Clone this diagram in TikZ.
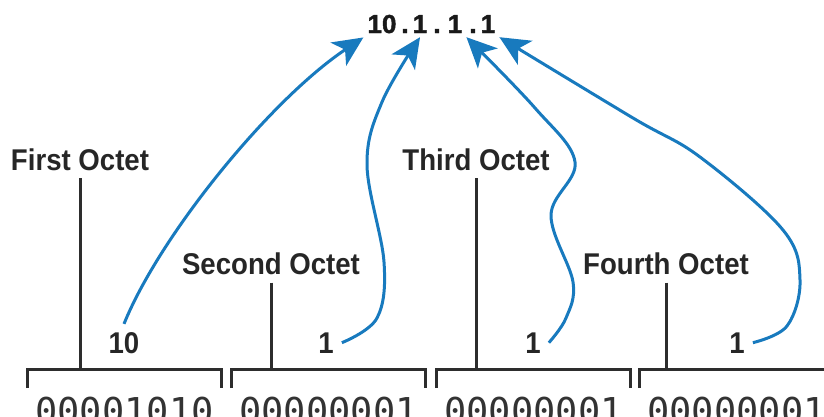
\documentclass[tikz,border=0pt]{standalone}
\usepackage{fontspec}
\setmainfont{Liberation Sans}
\newfontfamily\labfont[FakeStretch=0.92]{Liberation Sans}
\newfontfamily\ipfont[RawFeature={embolden=1.5}]{Liberation Sans}
\newfontfamily\bitfont{DejaVu Sans Mono}
\usetikzlibrary{arrows.meta,positioning}
\definecolor{linkblue}{RGB}{24,122,190}
\definecolor{inkgray}{RGB}{45,45,45}
\tikzset{
  octet/.style   = {font=\labfont\fontsize{30}{32}\bfseries, anchor=base,
          inner xsep=0pt, inner ysep=8pt, text=black!85},
  num/.style     = {octet, inner sep=8pt},
  ipdigit/.style = {font=\ipfont\fontsize{26}{28}\bfseries, anchor=base,
          inner sep=4pt, text=black!90},
  bits/.style    = {font=\bitfont\fontsize{37}{40}\selectfont,
          inner sep=0pt, text=black!80},
  brk/.style     = {minimum width=193pt, minimum height=18pt, inner sep=0pt},
  stem/.style    = {draw=inkgray, line width=3pt},
  link/.style    = {draw=linkblue, line width=3pt,
          -{Stealth[length=30pt,width=28pt,inset=8pt]}}
}

\begin{document}
\begin{tikzpicture}[x=1pt, y=-1pt]
  \useasboundingbox (0,0) rectangle (824,416);
  % dotted address
  \node [ipdigit] (ipa)  at (382,33) {10};
  \node [ipdigit] (dota) at (405,33) {.};
  \node [ipdigit] (ipb)  at (420,33) {1};
  \node [ipdigit] (dotb) at (437,33) {.};
  \node [ipdigit] (ipc)  at (455,33) {1};
  \node [ipdigit] (dotc) at (473,33) {.};
  \node [ipdigit] (ipd)  at (488,33) {1};
  % brackets and bits
  \foreach \i/\x/\b in {1/124.5/00001010, 2/328.5/00000001,
                        3/533.5/00000001, 4/736.5/00000001} {
    \node [brk] (br\i) at (\x,379) {};
    \node [bits, below=9pt of br\i] (bit\i) {\b};
    \draw [stem] (br\i.south west) |- (br\i.north east) -- (br\i.south east);
  }
  % octet labels
  \node [octet] (oct1) at (80,170)  {First Octet};
  \node [octet] (oct2) at (271,274) {Second Octet};
  \node [octet] (oct3) at (476,170) {Third Octet};
  \node [octet] (oct4) at (666,274) {Fourth Octet};
  \foreach \i in {1,...,4}
    \draw [stem] (oct\i.south) -- (oct\i.south |- br\i.north);
  % decimal values
  \node [num] (num1) at (124,353) {10};
  \node [num] (num2) at (326,353) {1};
  \node [num] (num3) at (533,353) {1};
  \node [num] (num4) at (737,353) {1};
  \draw [link] (num1.north) .. controls (160,235) and (270,100) .. (ipa.south west);
  \draw [link] plot [smooth, tension=0.6] coordinates {(num2.east) (377,318)
    (384,262) (367,165) (382,102) (ipb.south)};
  \draw [link] plot [smooth, tension=0.6] coordinates {(num3.east) (566,318)
    (573,282) (551,215) (575,162) (535,108) (ipc.south east)};
  \draw [link] plot [smooth, tension=0.6] coordinates {(num4.east) (787,326)
    (800,280) (783,230) (700,157) (633,118) (ipd.south east)};
\end{tikzpicture}
\end{document}
